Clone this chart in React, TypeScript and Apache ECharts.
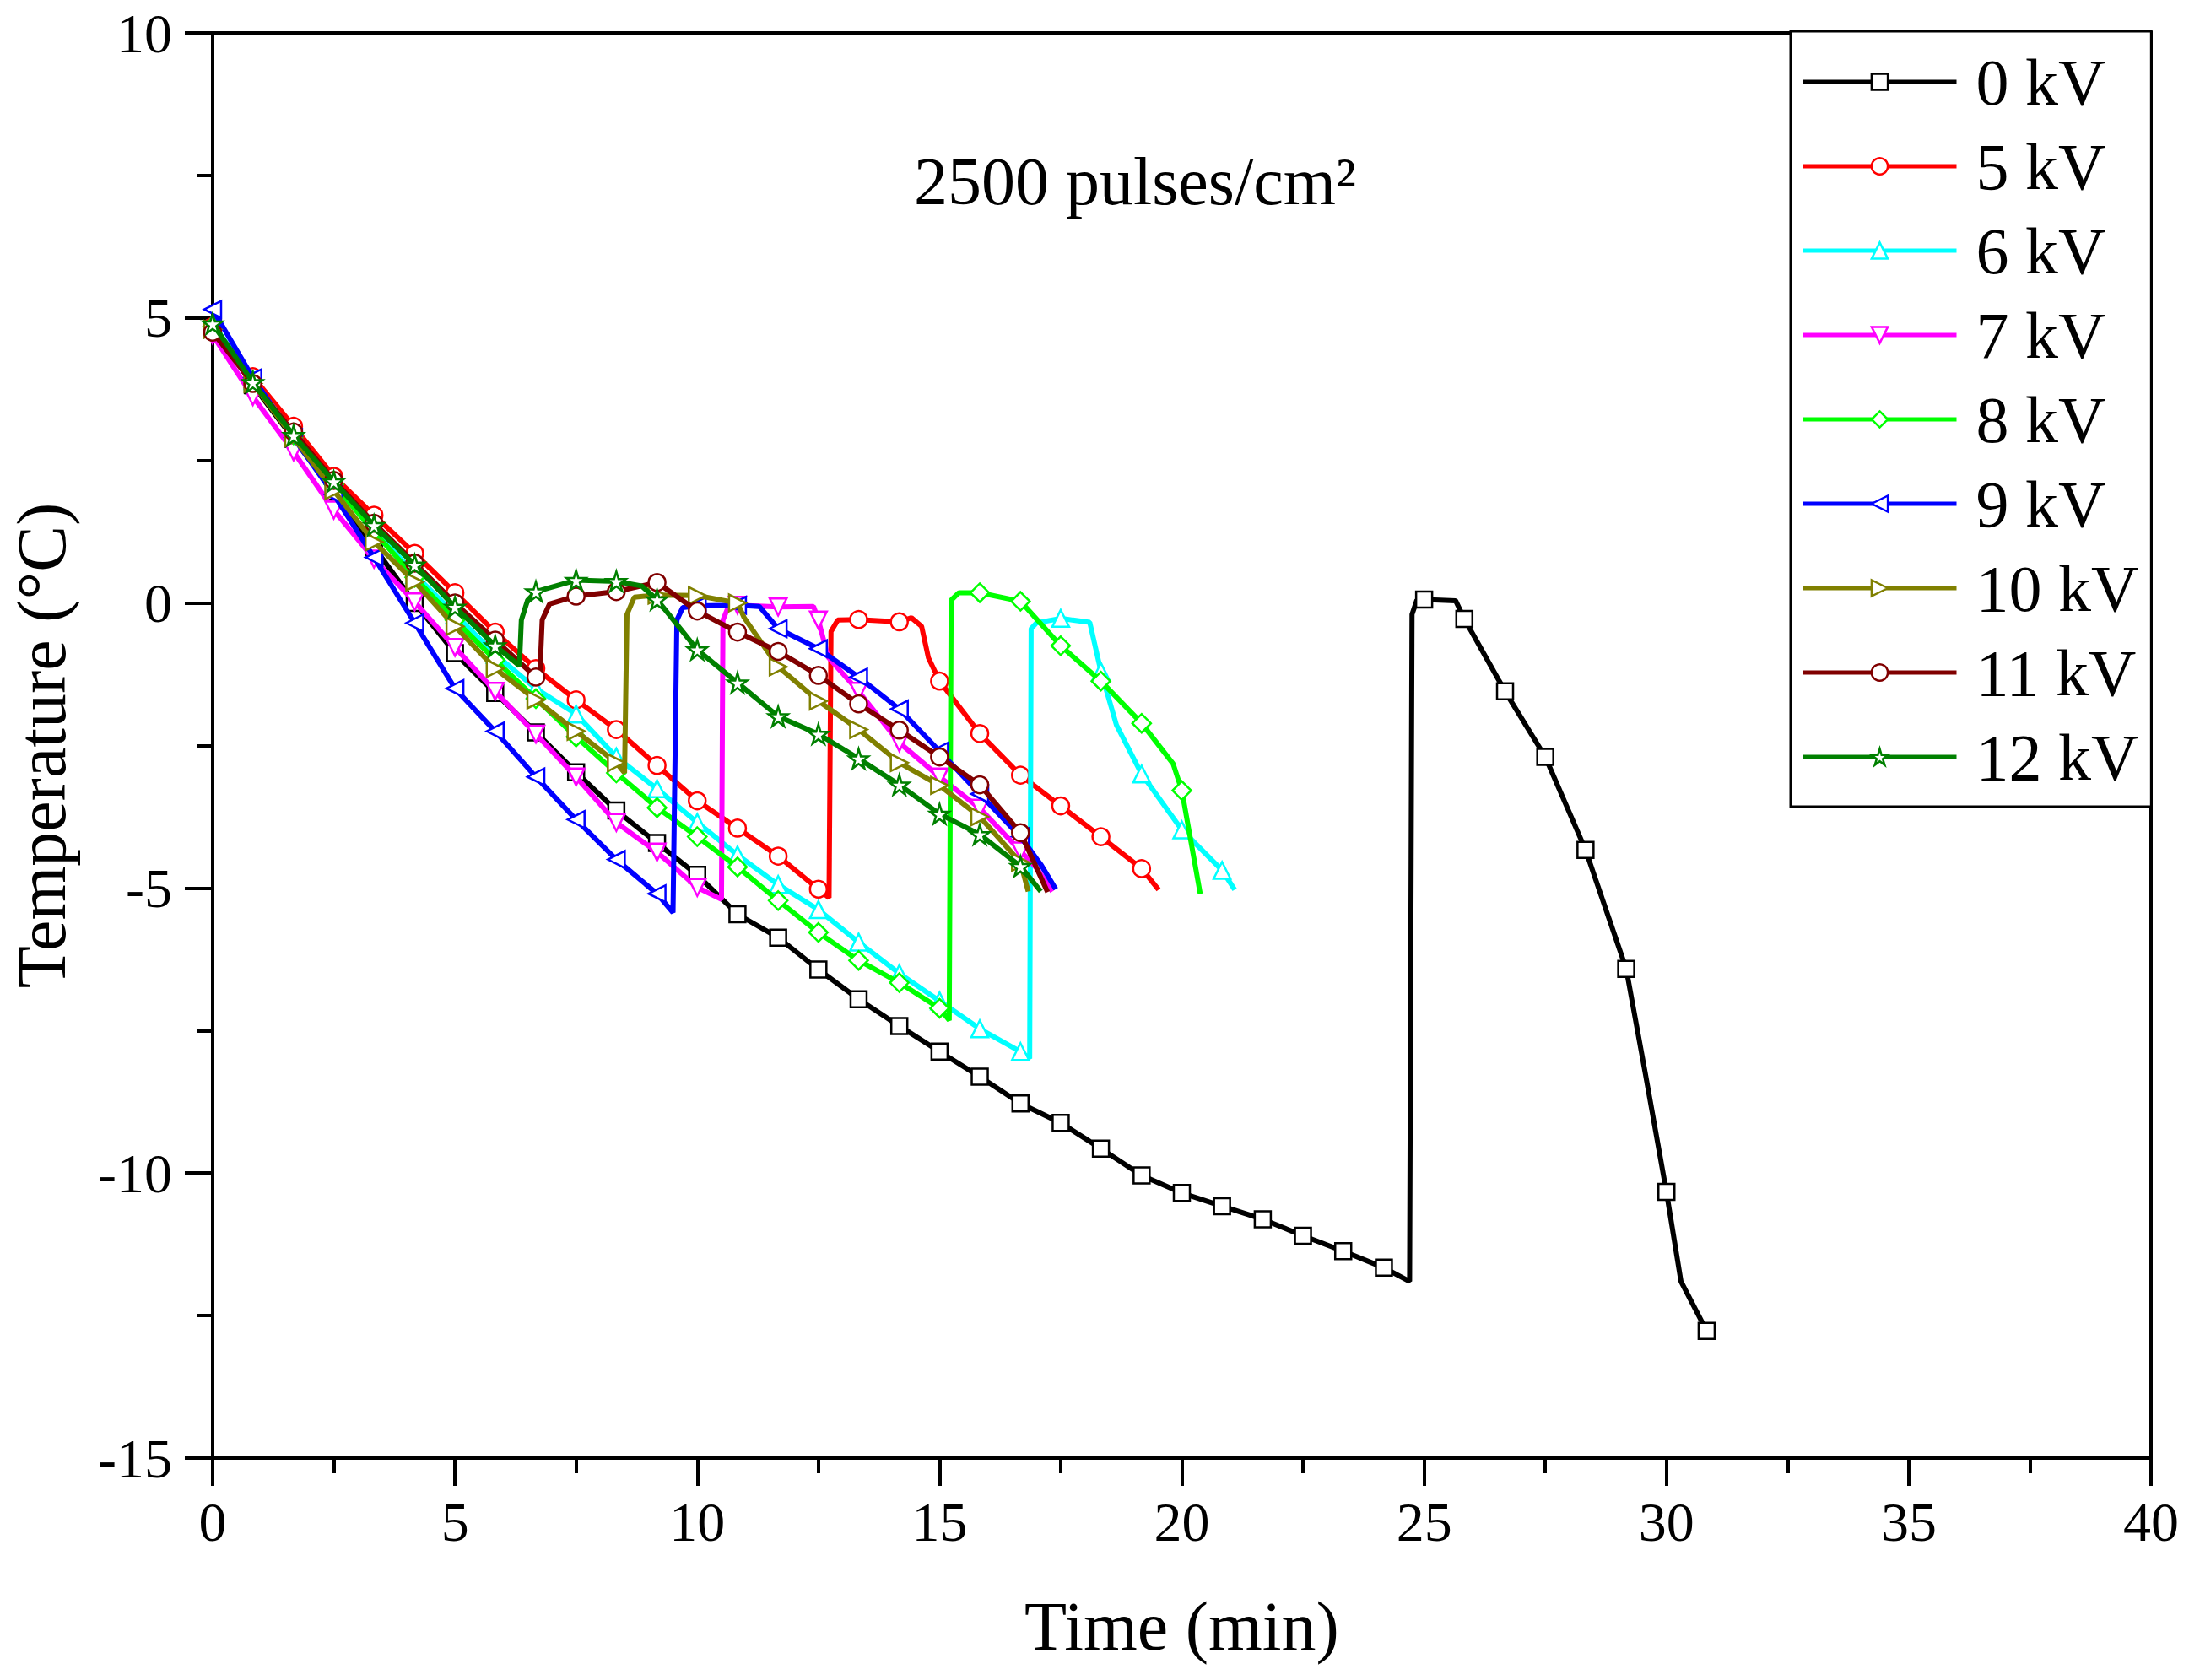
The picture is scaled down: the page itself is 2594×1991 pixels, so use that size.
import React, { useEffect, useRef } from "react";
import * as echarts from "echarts";

// ---- data: [time (min), temperature (°C), marker(1) / plain point(0)] ----
const seriesNames = ["0 kV", "5 kV", "6 kV", "7 kV", "8 kV", "9 kV", "10 kV", "11 kV", "12 kV"];
const seriesColors = ["#000000", "#ff0000", "#00ffff", "#ff00ff", "#00ff00", "#0000ff", "#808000", "#800000", "#008000"];

const kv0 = [
  [0, 4.85, 1], [0.83, 3.82, 1], [1.67, 2.88, 1], [2.5, 1.95, 1], [3.33, 0.98, 1], [4.17, 0.0, 1],
  [5, -0.88, 1], [5.83, -1.58, 1], [6.67, -2.27, 1], [7.5, -2.97, 1], [8.33, -3.64, 1], [9.17, -4.21, 1],
  [10, -4.77, 1], [10.83, -5.46, 1], [11.67, -5.87, 1], [12.5, -6.43, 1], [13.33, -6.95, 1], [14.17, -7.42, 1],
  [15, -7.87, 1], [15.83, -8.31, 1], [16.67, -8.78, 1], [17.5, -9.12, 1], [18.33, -9.57, 1], [19.17, -10.04, 1],
  [20, -10.35, 1], [20.83, -10.58, 1], [21.67, -10.81, 1], [22.5, -11.1, 1], [23.33, -11.37, 1], [24.17, -11.66, 1],
  [24.7, -11.9, 0], [24.75, -0.2, 0], [24.85, 0.05, 0], [25, 0.06, 1], [25.65, 0.04, 0], [25.83, -0.28, 1],
  [26.67, -1.55, 1], [27.5, -2.7, 1], [28.33, -4.33, 1], [29.17, -6.42, 1], [29.57, -8.28, 0], [30, -10.33, 1],
  [30.3, -11.9, 0], [30.83, -12.77, 1], [30.9, -12.85, 0],
];
const kv5 = [
  [0, 4.85, 1], [0.83, 3.97, 1], [1.67, 3.1, 1], [2.5, 2.22, 1], [3.33, 1.54, 1], [4.17, 0.87, 1],
  [5, 0.18, 1], [5.83, -0.51, 1], [6.67, -1.15, 1], [7.5, -1.7, 1], [8.33, -2.22, 1], [9.17, -2.85, 1],
  [10, -3.47, 1], [10.83, -3.95, 1], [11.67, -4.44, 1], [12.5, -5.02, 1], [12.72, -5.17, 0], [12.76, -0.5, 0],
  [12.9, -0.3, 0], [13.33, -0.29, 1], [14.17, -0.33, 1], [14.42, -0.26, 0], [14.63, -0.41, 0], [14.77, -0.96, 0],
  [15, -1.37, 1], [15.83, -2.29, 1], [16.67, -3.02, 1], [17.5, -3.56, 1], [18.33, -4.1, 1], [19.17, -4.66, 1],
  [19.52, -5.03, 0],
];
const kv6 = [
  [0, 4.9, 1], [0.83, 3.9, 1], [1.67, 2.97, 1], [2.5, 2.1, 1], [3.33, 1.3, 1], [4.17, 0.5, 1],
  [5, -0.2, 1], [5.83, -0.9, 1], [6.67, -1.5, 1], [7.5, -1.95, 1], [8.33, -2.7, 1], [9.17, -3.26, 1],
  [10, -3.85, 1], [10.83, -4.42, 1], [11.67, -4.94, 1], [12.5, -5.38, 1], [13.33, -5.95, 1], [14.17, -6.5, 1],
  [15, -6.98, 1], [15.83, -7.47, 1], [16.67, -7.87, 1], [16.86, -7.99, 0], [16.89, -0.45, 0], [17.0, -0.35, 0],
  [17.5, -0.27, 1], [18.1, -0.34, 0], [18.33, -1.2, 1], [18.65, -2.14, 0], [19.17, -3.0, 1], [20, -3.98, 1],
  [20.83, -4.69, 1], [21.09, -5.03, 0],
];
const kv7 = [
  [0, 4.7, 1], [0.83, 3.62, 1], [1.67, 2.65, 1], [2.5, 1.63, 1], [3.33, 0.77, 1], [4.17, 0.02, 1],
  [5, -0.78, 1], [5.83, -1.55, 1], [6.67, -2.3, 1], [7.5, -3.05, 1], [8.33, -3.85, 1], [9.17, -4.37, 1],
  [10, -4.99, 1], [10.5, -5.2, 0], [10.53, -0.3, 0], [10.65, -0.05, 0], [10.83, -0.04, 1], [11.67, -0.07, 1],
  [12.4, -0.06, 0], [12.5, -0.3, 1], [12.7, -0.95, 0], [13.33, -1.55, 1], [14.17, -2.45, 1], [15, -3.05, 1],
  [15.83, -3.6, 1], [16.67, -4.35, 1], [17.0, -4.65, 0], [17.33, -5.06, 0],
];
const kv8 = [
  [0, 4.85, 1], [0.83, 3.9, 1], [1.67, 2.95, 1], [2.5, 2.08, 1], [3.33, 1.25, 1], [4.17, 0.45, 1],
  [5, -0.3, 1], [5.83, -1.0, 1], [6.67, -1.68, 1], [7.5, -2.35, 1], [8.33, -2.98, 1], [9.17, -3.59, 1],
  [10, -4.1, 1], [10.83, -4.63, 1], [11.67, -5.22, 1], [12.5, -5.78, 1], [13.33, -6.27, 1], [14.17, -6.66, 1],
  [15, -7.11, 1], [15.2, -7.32, 0], [15.24, 0.05, 0], [15.4, 0.18, 0], [15.83, 0.18, 1], [16.67, 0.03, 1],
  [17.5, -0.75, 1], [18.33, -1.37, 1], [19.17, -2.11, 1], [19.82, -2.82, 0], [20, -3.29, 1], [20.38, -5.1, 0],
];
const kv9 = [
  [0, 5.15, 1], [0.83, 3.95, 1], [1.67, 2.9, 1], [2.5, 1.9, 1], [3.33, 0.8, 1], [4.17, -0.35, 1],
  [5, -1.5, 1], [5.83, -2.25, 1], [6.67, -3.05, 1], [7.5, -3.8, 1], [8.33, -4.5, 1], [9.17, -5.1, 1],
  [9.5, -5.43, 0], [9.58, -0.3, 0], [9.7, -0.08, 0], [10, -0.05, 1], [10.83, -0.04, 1], [11.28, -0.06, 0],
  [11.67, -0.45, 1], [12.5, -0.8, 1], [13.33, -1.3, 1], [14.17, -1.86, 1], [15, -2.6, 1], [15.83, -3.35, 1],
  [16.67, -4.1, 1], [17.1, -4.6, 0], [17.4, -5.02, 0],
];
const kv10 = [
  [0, 4.8, 1], [0.83, 3.85, 1], [1.67, 2.9, 1], [2.5, 1.97, 1], [3.33, 1.07, 1], [4.17, 0.37, 1],
  [5, -0.41, 1], [5.83, -1.15, 1], [6.67, -1.7, 1], [7.5, -2.25, 1], [8.33, -2.8, 1], [8.5, -2.98, 0],
  [8.55, -0.2, 0], [8.7, 0.1, 0], [9.17, 0.14, 1], [10, 0.13, 1], [10.83, 0.0, 1], [10.97, -0.26, 0],
  [11.67, -1.12, 1], [12.5, -1.72, 1], [13.33, -2.22, 1], [14.17, -2.8, 1], [15, -3.2, 1], [15.83, -3.75, 1],
  [16.67, -4.55, 1], [16.83, -5.06, 0],
];
const kv11 = [
  [0, 4.75, 1], [0.83, 3.85, 1], [1.67, 3.0, 1], [2.5, 2.15, 1], [3.33, 1.4, 1], [4.17, 0.7, 1],
  [5, 0.0, 1], [5.83, -0.65, 1], [6.67, -1.3, 1], [6.75, -1.3, 0], [6.8, -0.3, 0], [6.95, -0.02, 0],
  [7.5, 0.12, 1], [8.33, 0.2, 1], [9.17, 0.36, 1], [10, -0.14, 1], [10.83, -0.51, 1], [11.67, -0.85, 1],
  [12.5, -1.27, 1], [13.33, -1.77, 1], [14.17, -2.23, 1], [15, -2.7, 1], [15.83, -3.19, 1], [16.67, -4.03, 1],
  [17.23, -5.07, 0],
];
const kv12 = [
  [0, 4.9, 1], [0.83, 3.87, 1], [1.67, 2.94, 1], [2.5, 2.13, 1], [3.33, 1.36, 1], [4.17, 0.67, 1],
  [5, -0.07, 1], [5.83, -0.75, 1], [6.33, -1.1, 0], [6.37, -0.3, 0], [6.5, 0.05, 0], [6.67, 0.2, 1],
  [7.5, 0.4, 1], [8.33, 0.38, 1], [8.85, 0.3, 0], [9.17, 0.06, 1], [10, -0.82, 1], [10.83, -1.4, 1],
  [11.67, -1.99, 1], [12.5, -2.3, 1], [13.33, -2.73, 1], [14.17, -3.19, 1], [15, -3.7, 1], [15.83, -4.06, 1],
  [16.67, -4.62, 1], [17.09, -5.06, 0],
];
const allData = [kv0, kv5, kv6, kv7, kv8, kv9, kv10, kv11, kv12];

const STAR = "path://M50,0 L61,35 L98,35 L68,57 L79,91 L50,70 L21,91 L32,57 L2,35 L39,35 Z";
const symbols = ["rect", "circle", "triangle", "triangle", "diamond", "triangle", "triangle", "circle", STAR];
const symbolRotates = [0, 0, 0, 180, 0, 90, -90, 0, 0];
const symbolSizes = [19, 20, 20, 20, 22, 20, 20, 20, 23];

const titleText = "2500 pulses/cm²";
const xTitle = "Time (min)";
const yTitle = "Temperature (°C)";

const FONT = "'Liberation Serif', 'Times New Roman', serif";

export default function App() {
  const ref = useRef<HTMLDivElement>(null);
  useEffect(() => {
    if (!ref.current) return;
    const chart = echarts.init(ref.current, undefined, { renderer: "svg" });
    const series = allData.map((arr, i) => ({
      name: seriesNames[i],
      type: "line",
      symbol: symbols[i],
      symbolSize: symbolSizes[i],
      symbolRotate: symbolRotates[i],
      showSymbol: true,
      z: 2 + i,
      lineStyle: { color: seriesColors[i], width: 6 },
      itemStyle: { color: "#ffffff", borderColor: seriesColors[i], borderWidth: 2.5 },
      emphasis: { disabled: true },
      data: arr.map(([x, y, m]) => (m ? [x, y] : { value: [x, y], symbol: "none" })),
    }));
    const axisCommon = {
      axisLine: { show: true, onZero: false, lineStyle: { color: "#000", width: 4 } },
      axisTick: { show: true, inside: false, length: 33, lineStyle: { color: "#000", width: 4 } },
      minorTick: { show: true, splitNumber: 2, length: 18, lineStyle: { color: "#000", width: 4 } },
      splitLine: { show: false },
      minorSplitLine: { show: false },
      axisLabel: { fontFamily: FONT, fontSize: 66, lineHeight: 54, color: "#000", margin: 48 },
      nameLocation: "middle",
      nameTextStyle: { fontFamily: FONT, fontSize: 82, color: "#000" },
    };
    chart.setOption({
      animation: false,
      backgroundColor: "#ffffff",
      grid: { left: 252, top: 39, right: 45, bottom: 263, show: true, borderColor: "#000", borderWidth: 4, backgroundColor: "transparent" },
      xAxis: { type: "value", min: 0, max: 40, interval: 5, name: xTitle, nameGap: 158, ...axisCommon },
      yAxis: { type: "value", min: -15, max: 10, interval: 5, name: yTitle, nameGap: 162, nameRotate: 90, ...axisCommon },
      legend: {
        orient: "vertical",
        left: 2122,
        top: 37,
        padding: [21, 15, 20, 12],
        itemWidth: 182,
        itemHeight: 24,
        itemGap: 22,
        borderColor: "#000",
        borderWidth: 3,
        backgroundColor: "#fff",
        lineStyle: { width: 5 },
        itemStyle: { borderWidth: 2.5 },
        textStyle: { fontFamily: FONT, fontSize: 78, color: "#000", lineHeight: 78, padding: [0, 0, 0, 18] },
        data: seriesNames,
      },
      graphic: [
        {
          type: "text",
          left: 1083,
          top: 175,
          style: { text: titleText, fontFamily: FONT, fontSize: 80, fill: "#000" },
        },
      ],
      series,
    });
    return () => chart.dispose();
  }, []);
  return <div ref={ref} style={{ position: "absolute", left: 0, top: 0, width: 2594, height: 1991 }} />;
}
